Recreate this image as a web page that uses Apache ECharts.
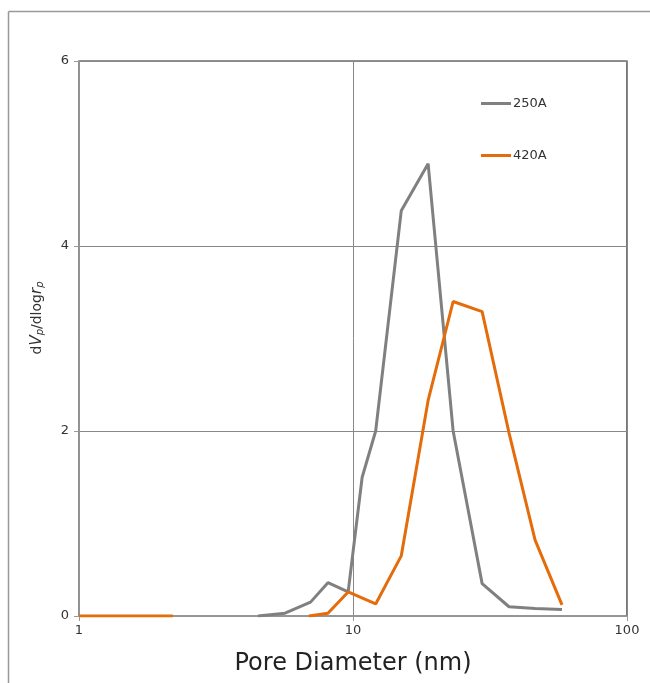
<!DOCTYPE html>
<html>
<head>
<meta charset="utf-8">
<script src="https://cdn.jsdelivr.net/npm/echarts@6/dist/echarts.min.js"></script>
<style>html,body{margin:0;padding:0;background:#fff}#c{width:650px;height:683px}</style>
</head>
<body>
<div id="c"></div>
<script>
// Pore diameters (nm) and dV/dlog r values
const diam250 = [4.5, 5.65, 7.0, 8.1, 9.6, 10.8, 12.1, 15.0, 18.8, 23.2, 29.6, 37.1, 46.2, 57.9];
const vals250 = [0, 0.03, 0.15, 0.36, 0.26, 1.5, 2.0, 4.38, 4.89, 2.0, 0.35, 0.10, 0.08, 0.07];
const diam420 = [1.0, 2.2, 2.3, 6.9, 8.1, 9.6, 12.1, 15.0, 18.8, 23.2, 29.6, 37.1, 46.2, 57.9];
const vals420 = [0, 0, '-', 0, 0.03, 0.26, 0.13, 0.65, 2.33, 3.40, 3.29, 1.98, 0.82, 0.12];
const seriesNames = ['250A', '420A'];
const yTicks = [0, 2, 4, 6];
const xTicks = [1, 10, 100];

const chart = echarts.init(document.getElementById('c'));
const font = 'DejaVu Sans';
chart.setOption({
  animation: false,
  textStyle: {fontFamily: font},
  grid: {left: 79, top: 61, width: 548, height: 555, show: true, borderColor: '#222', borderWidth: 1.2, backgroundColor: 'transparent'},
  legend: {
    orient: 'vertical', left: 481, top: 97, itemGap: 39, padding: 0,
    itemWidth: 30, itemHeight: 3, icon: 'rect',
    textStyle: {fontSize: 13, color: '#333', fontFamily: font, padding: [0, 0, 0, -3]},
    data: seriesNames
  },
  xAxis: {
    type: 'log', logBase: 10, min: 1, max: 100,
    axisLine: {lineStyle: {color: '#999', width: 1.5}},
    axisTick: {show: true, length: 5, lineStyle: {color: '#999'}},
    minorTick: {show: false},
    splitLine: {show: true, lineStyle: {color: '#888', width: 1}},
    axisLabel: {fontSize: 13, color: '#333', margin: 8, fontFamily: font,
      formatter: v => xTicks.includes(Math.round(v)) ? String(Math.round(v)) : ''},
    name: 'Pore Diameter (nm)', nameLocation: 'middle', nameGap: 36,
    nameTextStyle: {fontSize: 24, color: '#222', fontFamily: font}
  },
  yAxis: {
    type: 'value', min: 0, max: 6, interval: 2,
    axisLine: {show: true, lineStyle: {color: '#999', width: 1.5}},
    axisTick: {show: true, length: 5, lineStyle: {color: '#999'}},
    splitLine: {show: true, lineStyle: {color: '#888', width: 1}},
    axisLabel: {fontSize: 13, color: '#333', margin: 10, fontFamily: font,
      formatter: v => yTicks.includes(v) ? String(v) : ''}
  },
  graphic: [
    {type: 'line', shape: {x1: 8.5, y1: 11.5, x2: 650, y2: 11.5}, style: {stroke: '#999', lineWidth: 1.5}},
    {type: 'line', shape: {x1: 8.5, y1: 11.5, x2: 8.5, y2: 683}, style: {stroke: '#999', lineWidth: 1.5}},
    {type: 'text', x: 37, y: 318, rotation: Math.PI / 2,
      style: {
        text: 'd{i|V}{s|p}/dlog{i|r}{s|p}',
        fontSize: 14, fill: '#333', fontFamily: font,
        align: 'center', verticalAlign: 'middle',
        rich: {
          i: {fontStyle: 'italic', fontSize: 15, fontFamily: font, fill: '#333'},
          s: {fontStyle: 'italic', fontSize: 10, fontFamily: font, fill: '#333', verticalAlign: 'bottom', padding: [6, 0, 0, 0]}
        }
      }}
  ],
  series: [
    {name: seriesNames[0], type: 'line', showSymbol: false, symbol: 'none',
      lineStyle: {color: '#808080', width: 3}, itemStyle: {color: '#808080'},
      data: diam250.map((d, i) => [d, vals250[i]])},
    {name: seriesNames[1], type: 'line', showSymbol: false, symbol: 'none', connectNulls: false,
      lineStyle: {color: '#E46C0A', width: 3}, itemStyle: {color: '#E46C0A'},
      data: diam420.map((d, i) => [d, vals420[i]])}
  ]
});
</script>
</body>
</html>
